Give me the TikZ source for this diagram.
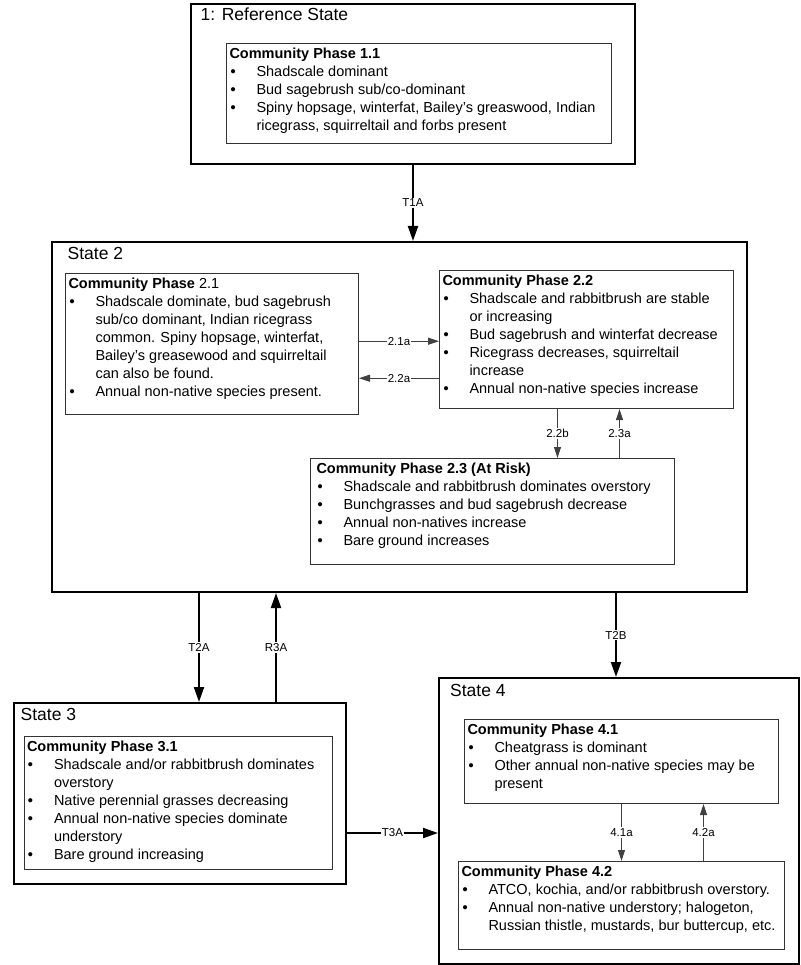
\documentclass[tikz,border=0pt]{standalone}
\usepackage{fontspec}
\setmainfont{Liberation Sans}
\usetikzlibrary{arrows.meta,positioning}

% text of a phase box: width, height, title, rows
\newcommand{\phase}[4]{%
  \begin{minipage}[t][#2][t]{#1}%
  \begin{tabular}[t]{@{\hspace{1pt}}p{26pt}@{}l@{}}%
  \multicolumn{2}{@{}l@{}}{#3}\\
  #4%
  \end{tabular}%
  \end{minipage}}
\newcommand{\bul}{\textbf{\textbullet}}

\begin{document}
\begin{tikzpicture}[x=1pt,y=-1pt,
        statebox/.style={draw,line width=2pt,anchor=north west,inner sep=0pt},
        phasebox/.style={draw=black!80,line width=1pt,anchor=north west,
          inner xsep=3pt,inner ysep=2.5pt,font=\fontsize{14.5}{18}\selectfont},
        stitle/.style={anchor=base west,inner sep=0pt,font=\fontsize{17.5}{20}\selectfont},
        stateedge/.style={line width=2pt,-{Triangle[length=15pt,width=10pt]}},
        phaseedge/.style={draw=black!75,line width=1pt,-{Triangle[length=11pt,width=7pt]}},
        lbl/.style={fill=white,inner sep=1pt,font=\fontsize{11.5}{13}\selectfont}]
      \useasboundingbox (0,0) rectangle (800,965);
      % states
      \node[statebox,minimum width=444pt,minimum height=160pt] (s1) at (190,3) {};
      \node[statebox,minimum width=695pt,minimum height=350pt] (s2) at (51,241) {};
      \node[statebox,minimum width=332pt,minimum height=181pt] (s3) at (13,702) {};
      \node[statebox,minimum width=360pt,minimum height=286pt] (s4) at (438,677) {};
      \node[stitle] (t1) at ([shift={(10.5pt,-18pt)}]s1.north west) {1: Reference State};
      \node[stitle] (t2) at ([shift={(16.5pt,-18.3pt)}]s2.north west) {State 2};
      \node[stitle] (t3) at ([shift={(7.5pt,-18.7pt)}]s3.north west) {State 3};
      \node[stitle] (t4) at ([shift={(12pt,-19pt)}]s4.north west) {State 4};
      % community phases
      \node[phasebox] (p11) at (226,43) {\phase{379pt}{95pt}{\textbf{Community Phase 1.1}}{%
        \bul & Shadscale dominant\\
        \bul & Bud sagebrush sub/co-dominant\\
        \bul & Spiny hopsage, winterfat, Bailey’s greaswood, Indian\\
        & ricegrass, squirreltail and forbs present}};
      \node[phasebox] (p21) at (65,273) {\phase{287pt}{136pt}{\textbf{Community Phase} 2.1}{%
        \bul & Shadscale dominate, bud sagebrush\\
        & sub/co dominant, Indian ricegrass\\
        & common. Spiny hopsage, winterfat,\\
        & Bailey’s greasewood and squirreltail\\
        & can also be found.\\
        \bul & Annual non-native species present.}};
      \node[phasebox] (p22) at (439,270) {\phase{288pt}{133pt}{\textbf{Community Phase 2.2}}{%
        \bul & Shadscale and rabbitbrush are stable\\
        & or increasing\\
        \bul & Bud sagebrush and winterfat decrease\\
        \bul & Ricegrass decreases, squirreltail\\
        & increase\\
        \bul & Annual non-native species increase}};
      \node[phasebox,inner xsep=6pt] (p23) at (310,458) {\phase{352pt}{101pt}{\textbf{Community Phase 2.3 (At Risk)}}{%
        \bul & Shadscale and rabbitbrush dominates overstory\\
        \bul & Bunchgrasses and bud sagebrush decrease\\
        \bul & Annual non-natives increase\\
        \bul & Bare ground increases}};
      \node[phasebox] (p31) at (23.5,736) {\phase{302pt}{128pt}{\textbf{Community Phase 3.1}}{%
        \bul & Shadscale and/or rabbitbrush dominates\\
        & overstory\\
        \bul & Native perennial grasses decreasing\\
        \bul & Annual non-native species dominate\\
        & understory\\
        \bul & Bare ground increasing}};
      \node[phasebox] (p41) at (464,719) {\phase{308pt}{79pt}{\textbf{Community Phase 4.1}}{%
        \bul & Cheatgrass is dominant\\
        \bul & Other annual non-native species may be\\
        & present}};
      \node[phasebox] (p42) at (458,861) {\phase{320pt}{83pt}{\textbf{Community Phase 4.2}}{%
        \bul & ATCO, kochia, and/or rabbitbrush overstory.\\
        \bul & Annual non-native understory; halogeton,\\
        & Russian thistle, mustards, bur buttercup, etc.}};
      % transitions between states
      \path (s1.south) edge[stateedge] node[lbl] {T1A} (s1.south |- s2.north)
      ([xshift=19pt]s3.north |- s2.south) edge[stateedge] node[lbl] {T2A} ([xshift=19pt]s3.north)
      ([xshift=96pt]s3.north) edge[stateedge] node[lbl] {R3A} ([xshift=96pt]s3.north |- s2.south)
      ([xshift=-3pt]s4.north |- s2.south) edge[stateedge] node[lbl] {T2B} ([xshift=-3pt]s4.north)
      ([yshift=-39.5pt]s3.east) edge[stateedge] node[lbl] {T3A} ([yshift=-39.5pt]s3.east -| s4.west);
      % pathways between phases
      \path ([yshift=2.8pt]p21.east) edge[phaseedge] node[lbl] {2.1a} ([yshift=2.8pt]p21.east -| p22.west)
      ([yshift=-38.7pt]p22.west) edge[phaseedge] node[lbl] {2.2a} ([yshift=-38.7pt]p22.west -| p21.east)
      ([xshift=-29pt]p22.south) edge[phaseedge] node[lbl] {2.2b} ([xshift=-29pt]p22.south |- p23.north)
      ([xshift=33pt]p22.south |- p23.north) edge[phaseedge] node[lbl] {2.3a} ([xshift=33pt]p22.south)
      (p41.south) edge[phaseedge] node[lbl] {4.1a} (p41.south |- p42.north)
      ([xshift=82pt]p41.south |- p42.north) edge[phaseedge] node[lbl] {4.2a} ([xshift=82pt]p41.south);
    \end{tikzpicture}
\end{document}
